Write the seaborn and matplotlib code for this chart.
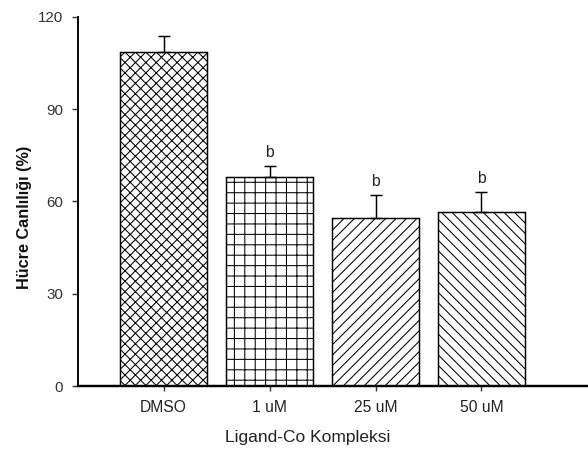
import matplotlib
matplotlib.use("Agg")
import matplotlib.pyplot as plt
import seaborn as sns
import numpy as np

categories = ["DMSO", "1 uM", "25 uM", "50 uM"]
values = [108.6, 67.9, 54.5, 56.5]
errors = [5.3, 3.6, 7.7, 6.6]
sig_labels = ["", "b", "b", "b"]
hatches = ["xxxx", "++", "////", "\\\\\\\\"]
yticks = [0, 30, 60, 90, 120]

sns.set_theme(style="ticks")
DPI = 125
plt.rcParams["font.family"] = ["Liberation Sans", "DejaVu Sans"]
plt.rcParams["hatch.linewidth"] = 0.6
plt.rcParams["hatch.color"] = "black"

fig = plt.figure(figsize=(588 / DPI, 451 / DPI), dpi=DPI)
ax = fig.add_axes([78 / 588, 65 / 451, 1 - 78 / 588, (386 - 17) / 451])

sns.barplot(x=categories, y=values, color="white", saturation=1,
            edgecolor="black", linewidth=0.85, width=0.82,
            errorbar=None, ax=ax)

for patch, h in zip(ax.patches, hatches):
    patch.set_hatch(h)

xpos = np.arange(len(categories))
ax.errorbar(xpos, values, yerr=[np.zeros(len(errors)), errors], fmt="none",
            ecolor="black", elinewidth=0.85, capsize=3.2, capthick=0.85,
            zorder=1)

for x, v, e, s in zip(xpos, values, errors, sig_labels):
    if s:
        ax.text(x, v + e + 2.0, s, ha="center", va="bottom",
                fontsize=9.0, color="#222222")

ax.set_ylim(0, 120)
ax.set_xlim(-0.807, 4.005)
ax.set_yticks(yticks)
ax.set_yticklabels([str(t) for t in yticks])

for side in ["top", "right"]:
    ax.spines[side].set_visible(False)
ax.spines["left"].set_linewidth(1.1)
ax.spines["bottom"].set_linewidth(1.4)
ax.spines["left"].set_color("black")
ax.spines["bottom"].set_color("black")

ax.tick_params(axis="y", direction="out", length=3.5, width=0.8, pad=5,
               labelsize=8.7, labelcolor="#333333", colors="#333333")
ax.tick_params(axis="x", direction="out", length=3.0, width=0.8, pad=5,
               labelsize=9.0, labelcolor="#222222", colors="#333333")

ax.set_xlabel("Ligand-Co Kompleksi", fontsize=10.0, color="#222222")
ax.xaxis.set_label_coords(0.451, -0.118)
ax.set_ylabel("Hücre Canlılığı (%)", fontsize=9.4, fontweight="bold",
              color="#111111")
ax.yaxis.set_label_coords(-0.090, 0.458)

fig.savefig("out.png", dpi=DPI)
